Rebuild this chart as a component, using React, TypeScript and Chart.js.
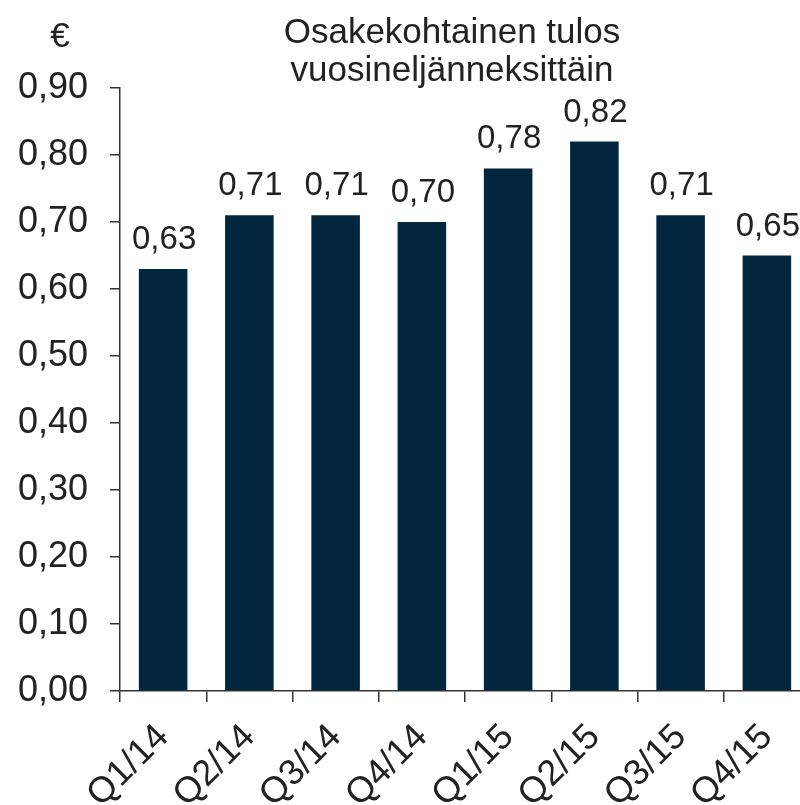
import React, { useEffect, useRef } from "react";
import { Chart, registerables } from "chart.js";

Chart.register(...registerables);

const categories = ["Q1/14", "Q2/14", "Q3/14", "Q4/14", "Q1/15", "Q2/15", "Q3/15", "Q4/15"];
const eps = [0.63, 0.71, 0.71, 0.7, 0.78, 0.82, 0.71, 0.65];
const titleLines = ["Osakekohtainen tulos", "vuosineljänneksittäin"];
const unitLabel = "€";

const FONT = "'Liberation Sans', Arial, sans-serif";
const TEXT = "#222222";
const BAR = "#03263f";
const AXIS = "#333333";

const fmt = (v: number) => v.toFixed(2).replace(".", ",");

export default function App() {
  const ref = useRef<HTMLCanvasElement | null>(null);
  useEffect(() => {
    document.body.style.margin = "0";
    document.body.style.overflow = "hidden";
    const canvas = ref.current!;
    const labelsPlugin = {
      id: "extras",
      afterDatasetsDraw(chart: any) {
        const ctx = chart.ctx;
        ctx.save();
        ctx.fillStyle = TEXT;
        ctx.font = `33px ${FONT}`;
        ctx.textAlign = "center";
        ctx.textBaseline = "alphabetic";
        const meta = chart.getDatasetMeta(0);
        meta.data.forEach((bar: any, i: number) => {
          ctx.fillText(fmt(eps[i]), bar.x + 1, bar.y - 20);
        });
        ctx.font = `35px ${FONT}`;
        ctx.fillText(titleLines[0], 452, 43);
        ctx.fillText(titleLines[1], 452, 81);
        ctx.fillText(unitLabel, 60, 47);
        ctx.restore();
      },
    };
    const chart = new Chart(canvas, {
      type: "bar",
      data: {
        labels: categories,
        datasets: [
          {
            data: eps,
            backgroundColor: BAR,
            borderWidth: 0,
            categoryPercentage: 1,
            barPercentage: 0.563,
          },
        ],
      },
      options: {
        responsive: false,
        animation: false,
        devicePixelRatio: 1,
        layout: { padding: { top: 88, left: 0, right: 10, bottom: 0 } },
        plugins: { legend: { display: false }, tooltip: { enabled: false }, title: { display: false } },
        scales: {
          x: {
            offset: true,
            grid: { offset: true, drawOnChartArea: false, drawTicks: true, tickLength: 11, color: AXIS, lineWidth: 1.5 },
            border: { display: true, color: AXIS, width: 1.5 },
            ticks: {
              color: TEXT,
              font: { family: FONT, size: 36 },
              minRotation: 45,
              maxRotation: 45,
              autoSkip: false,
              padding: 14,
            },
            afterFit: (s: any) => {
              s.height = 805 - 691;
            },
          },
          y: {
            min: 0,
            max: 0.9,
            grid: { drawOnChartArea: false, drawTicks: true, tickLength: 10, color: AXIS, lineWidth: 1.5 },
            border: { display: true, color: AXIS, width: 1.5 },
            ticks: {
              stepSize: 0.1,
              color: TEXT,
              font: { family: FONT, size: 36 },
              padding: 22,
              callback: (v: any) => fmt(Number(v)),
            },
            afterFit: (s: any) => {
              s.width = 120;
            },
          },
        },
      },
      plugins: [labelsPlugin],
    });
    return () => chart.destroy();
  }, []);
  return (
    <div style={{ width: 800, height: 805, overflow: "hidden", position: "relative", background: "#fff" }}>
      <canvas ref={ref} width={820} height={805} style={{ display: "block" }} />
    </div>
  );
}
